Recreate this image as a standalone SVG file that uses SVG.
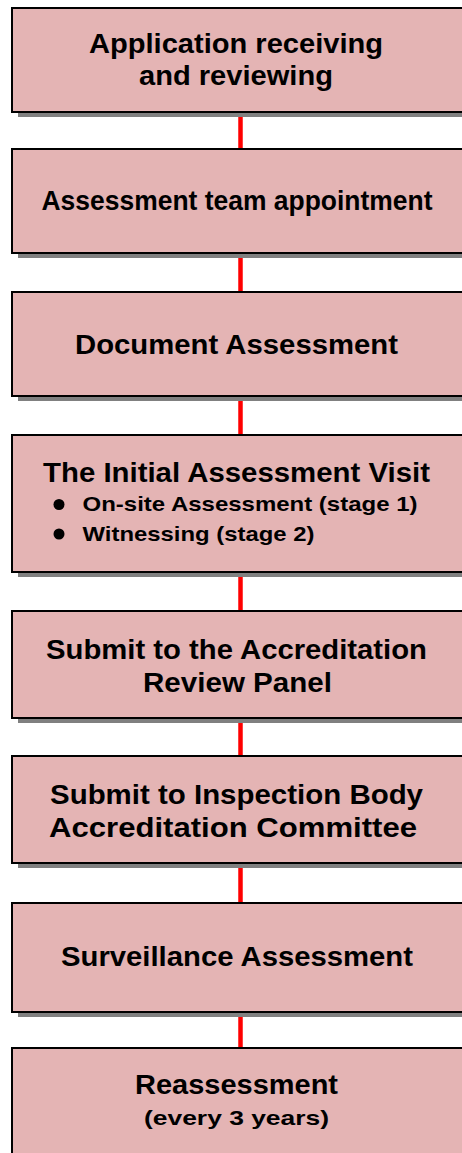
<svg xmlns="http://www.w3.org/2000/svg" width="462" height="1153" viewBox="0 0 462 1153">
<style>
.box{fill:#E4B4B4;stroke:#000;stroke-width:2}
.sh{fill:#808080}
.t{font-family:"Liberation Sans",Arial,sans-serif;font-weight:bold;font-size:27px;fill:#000;text-anchor:middle}
.s{font-family:"Liberation Sans",Arial,sans-serif;font-weight:bold;font-size:21px;fill:#000}
.c{stroke:#FF0000;stroke-width:4.5;fill:none}
</style>
<rect width="462" height="1153" fill="#fff"/>
<g id="connectors">
<line class="c" x1="240.5" y1="112" x2="240.5" y2="149"/>
<line class="c" x1="240.5" y1="253" x2="240.5" y2="292"/>
<line class="c" x1="240.5" y1="396" x2="240.5" y2="435"/>
<line class="c" x1="240.5" y1="572" x2="240.5" y2="611"/>
<line class="c" x1="240.5" y1="718" x2="240.5" y2="756"/>
<line class="c" x1="240.5" y1="863" x2="240.5" y2="903"/>
<line class="c" x1="240.5" y1="1012" x2="240.5" y2="1048"/>
</g>
<g id="n1">
<rect class="sh" x="18" y="13" width="470" height="104"/>
<rect class="box" x="12" y="8" width="470" height="104"/>
<text class="t" x="236" y="53" textLength="294" lengthAdjust="spacingAndGlyphs">Application receiving</text>
<text class="t" x="236" y="85" textLength="194" lengthAdjust="spacingAndGlyphs">and reviewing</text>
</g>
<g id="n2">
<rect class="sh" x="18" y="154" width="470" height="104"/>
<rect class="box" x="12" y="149" width="470" height="104"/>
<text class="t" x="237" y="210" textLength="391" lengthAdjust="spacingAndGlyphs">Assessment team appointment</text>
</g>
<g id="n3">
<rect class="sh" x="18" y="297" width="470" height="104"/>
<rect class="box" x="12" y="292" width="470" height="104"/>
<text class="t" x="236.5" y="354" textLength="323" lengthAdjust="spacingAndGlyphs">Document Assessment</text>
</g>
<g id="n4">
<rect class="sh" x="18" y="440" width="470" height="137"/>
<rect class="box" x="12" y="435" width="470" height="137"/>
<text class="t" x="236.5" y="482" textLength="387" lengthAdjust="spacingAndGlyphs">The Initial Assessment Visit</text>
<circle cx="59" cy="504.5" r="5.5" fill="#000"/>
<text class="s" x="82.5" y="511" textLength="335" lengthAdjust="spacingAndGlyphs">On-site Assessment (stage 1)</text>
<circle cx="59" cy="534" r="5.5" fill="#000"/>
<text class="s" x="82.5" y="540.5" textLength="232" lengthAdjust="spacingAndGlyphs">Witnessing (stage 2)</text>
</g>
<g id="n5">
<rect class="sh" x="18" y="616" width="470" height="107"/>
<rect class="box" x="12" y="611" width="470" height="107"/>
<text class="t" x="236.5" y="659" textLength="381" lengthAdjust="spacingAndGlyphs">Submit to the Accreditation</text>
<text class="t" x="237.5" y="691.5" textLength="189" lengthAdjust="spacingAndGlyphs">Review Panel</text>
</g>
<g id="n6">
<rect class="sh" x="18" y="761" width="470" height="107"/>
<rect class="box" x="12" y="756" width="470" height="107"/>
<text class="t" x="236.5" y="804" textLength="373" lengthAdjust="spacingAndGlyphs">Submit to Inspection Body</text>
<text class="t" x="233" y="836.5" textLength="368" lengthAdjust="spacingAndGlyphs">Accreditation Committee</text>
</g>
<g id="n7">
<rect class="sh" x="18" y="908" width="470" height="109"/>
<rect class="box" x="12" y="903" width="470" height="109"/>
<text class="t" x="237" y="966" textLength="352" lengthAdjust="spacingAndGlyphs">Surveillance Assessment</text>
</g>
<g id="n8">
<rect class="sh" x="18" y="1053" width="470" height="120"/>
<rect class="box" x="12" y="1048" width="470" height="120"/>
<text class="t" x="236.5" y="1093.5" textLength="203" lengthAdjust="spacingAndGlyphs">Reassessment</text>
<text class="s" x="236.5" y="1125" text-anchor="middle" textLength="185" lengthAdjust="spacingAndGlyphs">(every 3 years)</text>
</g>
</svg>
